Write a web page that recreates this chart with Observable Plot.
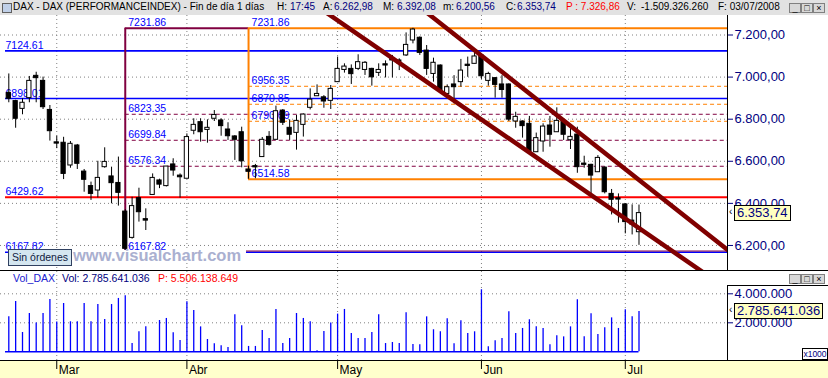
<!DOCTYPE html>
<html><head><meta charset="utf-8">
<script src="https://cdn.jsdelivr.net/npm/d3@7"></script>
<script src="https://cdn.jsdelivr.net/npm/@observablehq/plot@0.6"></script>
<style>
body{margin:0;background:#fff;font-family:"Liberation Sans",Arial,sans-serif;}
#root{position:relative;width:828px;height:378px;overflow:hidden;background:#fff;}
.a{position:absolute;white-space:nowrap;}
.tb{font-size:10px;line-height:14px;top:0;}
.k{color:#000;} .v{color:#000080;} .r{color:#ff0000;}
.btn{position:absolute;width:10px;height:8px;border:1px solid #808080;background:#d8d8d8;font-size:9px;line-height:8px;text-align:center;color:#000;}
.tag{position:absolute;background:#ffffc0;border:1px solid #000;font-size:13px;line-height:14px;color:#000080;padding:0 2px;}
svg{position:absolute;left:0;}
</style></head><body><div id="root"></div>
<script>
const dates = ["2008-02-21","2008-02-22","2008-02-25","2008-02-26","2008-02-27","2008-02-28","2008-02-29",
"2008-03-03","2008-03-04","2008-03-05","2008-03-06","2008-03-07","2008-03-10","2008-03-11","2008-03-12","2008-03-13","2008-03-14","2008-03-17","2008-03-18","2008-03-19","2008-03-20","2008-03-25","2008-03-26","2008-03-27","2008-03-28","2008-03-31",
"2008-04-01","2008-04-02","2008-04-03","2008-04-04","2008-04-07","2008-04-08","2008-04-09","2008-04-10","2008-04-11","2008-04-14","2008-04-15","2008-04-16","2008-04-17","2008-04-18","2008-04-21","2008-04-22","2008-04-23","2008-04-24","2008-04-25","2008-04-28","2008-04-29","2008-04-30",
"2008-05-02","2008-05-05","2008-05-06","2008-05-07","2008-05-08","2008-05-09","2008-05-12","2008-05-13","2008-05-14","2008-05-15","2008-05-16","2008-05-19","2008-05-20","2008-05-21","2008-05-22","2008-05-23","2008-05-26","2008-05-27","2008-05-28","2008-05-29","2008-05-30",
"2008-06-02","2008-06-03","2008-06-04","2008-06-05","2008-06-06","2008-06-09","2008-06-10","2008-06-11","2008-06-12","2008-06-13","2008-06-16","2008-06-17","2008-06-18","2008-06-19","2008-06-20","2008-06-23","2008-06-24","2008-06-25","2008-06-26","2008-06-27","2008-06-30",
"2008-07-01","2008-07-02","2008-07-03"];
const open = [6925,6886,6849,6900,7006,6982,6844,6690,6688,6580,
 6675,6551,6482,6461,6572,6528,6497,6361,6236,6425,
 6325,6440,6509,6482,6585,6532,6517,6745,6786,6749,
 6802,6794,6751,6718,6738,6561,6577,6620,6716,6702,
 6841,6759,6735,6773,6854,6909,6904,6887,6976,7034,
 7039,7039,7034,7039,7020,7061,7090,7079,7103,7174,
 7187,7126,7015,7055,6920,6965,6976,7059,7063,7103,
 6982,6995,6965,6965,6789,6789,6778,6643,6694,6770,
 6738,6792,6700,6727,6589,6583,6548,6570,6445,6424,
 6395,6318,6262.98];
const high = [7015,6890,6897,7003,7023,7000,6865,6719,6714,6694,
 6680,6561,6501,6600,6664,6572,6620,6370,6429,6472,
 6374,6540,6515,6575,6612,6540,6730,6802,6802,6797,
 6841,6802,6783,6722,6762,6577,6585,6713,6741,6862,
 6846,6797,6818,6825,6944,6963,6912,6960,7095,7063,
 7058,7106,7074,7042,7063,7077,7103,7087,7210,7231.86,
 7191,7150,7090,7058,6963,7007,7084,7095,7118,7106,
 7023,6998,7007,6968,6833,6792,6813,6734,6778,6813,
 6854,6795,6762,6762,6624,6586,6627,6573,6466,6445,
 6398,6393,6392.08];
const low = [6878,6757,6821,6878,6878,6846,6696,6660,6513,6567,
 6561,6453,6414,6426,6567,6398,6387,6167.82,6230,6311,
 6271,6440,6470,6478,6529,6425,6517,6726,6691,6686,
 6789,6719,6699,6604,6569,6514.58,6517,6620,6672,6702,
 6770,6699,6653,6715,6844,6909,6852,6846,6976,7019,
 6965,7031,7008,6957,7003,6996,6996,7031,7098,7158,
 7103,7008,6976,6925,6918,6873,6952,6999,7063,6989,
 6957,6900,6900,6789,6757,6710,6635,6643,6643,6667,
 6738,6699,6656,6543,6567,6429,6548,6445,6345,6306,
 6255,6250,6200.56];
const close = [6897,6802,6878,6982,6995,6857,6743,6684,6540,6683,
 6588,6512,6445,6521,6597,6496,6450,6184,6387,6358,
 6318,6521,6489,6575,6556,6524,6715,6773,6738,6759,
 6820,6767,6719,6702,6600,6550,6571,6702,6678,6838,
 6783,6726,6792,6822,6893,6920,6884,6944,7039,7050,
 7014,7071,7068,6999,7034,7055,7079,7066,7153,7226,
 7115,7039,7068,6936,6952,6952,7031,7053,7098,7004,
 7015,6963,6939,6798,6811,6767,6646,6710,6765,6726,
 6792,6726,6716,6572,6583,6532,6616,6453,6417,6418,
 6311,6300,6353.74];
// volume in thousands (axis x1000)
const volume = [2410000,3470000,1330000,2640000,1980000,2640000,3610000,2050000,3330000,2070000,
 2070000,3330000,2070000,3260000,2230000,3260000,3680000,3860000,570000,1380000,
 1720000,0,2160000,2300000,1310000,780000,3450000,2850000,1720000,850000,
 550000,410000,300000,2550000,1790000,370000,370000,1470000,920000,2920000,
 570000,920000,2640000,2300000,2070000,70000,1400000,1980000,2600000,2920000,
 1260000,920000,920000,1330000,2550000,570000,640000,570000,2690000,500000,
 480000,2410000,1520000,1380000,2280000,550000,2140000,1260000,1380000,4280000,
 340000,760000,920000,2760000,1260000,1610000,2210000,1720000,1610000,480000,
 1100000,1030000,1720000,3590000,1030000,2620000,1200000,1660000,2340000,1610000,
 2900000,2410000,2785641];
const monthNames = ["Mar","Abr","May","Jun","Jul"];
const priceTicks = [6200,6400,6600,6800,7000,7200];
const volTicks = [2000000,4000000];
const blueLevels = [7124.61, 6898.01, 6167.82];
const redLevels = [6429.62];
const purpleRange = [6167.82, 7231.86];
const purpleLevels = [6823.35, 6699.84, 6576.34];
const orangeRange = [6514.58, 7231.86];
const orangeLevels = [6956.35, 6870.85, 6790.09];
const trendUpper = [[60.1, 7330], [106, 6152]];
const trendLower = [[45.3, 7330], [102, 6058]];
const headerInfo = {volTotal: "2.785.641.036", volP: "5.506.138.649", P: "7.326,86", V: "-1.509.326.260", F: "03/07/2008", H: "17:45"};

const N = dates.length;
const loc = d3.formatLocale({decimal: ",", thousands: ".", grouping: [3], currency: ["", ""]});
const fmtPrice = loc.format(",.2f");
const fmtVol = loc.format(",.0f");
const fmtLevel = d3.format(".2f");
const monthIdx = dates.map((d, i) => i).filter(i => i > 0 && dates[i].slice(5, 7) !== dates[i - 1].slice(5, 7));
const purpleStart = low.indexOf(purpleRange[0]);
const orangeStart = low.indexOf(orangeRange[0]);
const leftX = -0.48;
const xDomain = [-1.212, 104.92];
const FONT = "Liberation Sans, Arial, sans-serif";

const candles = d3.range(N).map(i => ({i, o: open[i], h: high[i], l: low[i], c: close[i], up: close[i] >= open[i]}));
const bw = 0.31;

const labelOpts = {textAnchor: "start", lineAnchor: "bottom", dx: 3, dy: -2, fill: "#0000ff", fontSize: 10.5, fontFamily: FONT};

const price = Plot.plot({
  width: 828, height: 255,
  marginLeft: 0, marginRight: 101, marginTop: 0, marginBottom: 0,
  x: {domain: xDomain, axis: null},
  y: {domain: [6081, 7292.7], axis: null},
  style: {background: "transparent", fontFamily: FONT, overflow: "visible"},
  marks: [
    Plot.ruleY(priceTicks, {stroke: "#808080", strokeDasharray: "1,3"}),
    Plot.ruleX(monthIdx, {stroke: "#808080", strokeDasharray: "1,3"}),
    Plot.ruleY(blueLevels, {x1: leftX, x2: xDomain[1], stroke: "#0000ff", strokeWidth: 1.6}),
    Plot.ruleY(redLevels, {x1: leftX, x2: xDomain[1], stroke: "#ff0000", strokeWidth: 2}),
    Plot.ruleY(purpleLevels, {x1: purpleStart, x2: xDomain[1], stroke: "#800040", strokeDasharray: "4,3"}),
    Plot.ruleY([purpleRange[0]], {x1: purpleStart, x2: xDomain[1], stroke: "#800040", strokeWidth: 1, dy: -1.2}),
    Plot.ruleY([purpleRange[1]], {x1: purpleStart, x2: orangeStart, stroke: "#800040", strokeWidth: 2}),
    Plot.ruleX([purpleStart], {y1: purpleRange[0], y2: purpleRange[1], stroke: "#800040", strokeWidth: 2}),
    Plot.ruleY(orangeLevels, {x1: orangeStart, x2: xDomain[1], stroke: "#ff8000", strokeDasharray: "4,3"}),
    Plot.ruleY(orangeRange, {x1: orangeStart, x2: xDomain[1], stroke: "#ff8000", strokeWidth: 2}),
    Plot.ruleX([orangeStart], {y1: orangeRange[0], y2: orangeRange[1], stroke: "#ff8000", strokeWidth: 2}),
    Plot.text([...blueLevels, ...redLevels], {x: leftX, y: d => d, text: d => fmtLevel(d), ...labelOpts, dx: 0}),
    Plot.text([purpleRange[1], ...purpleLevels, purpleRange[0]], {x: purpleStart, y: d => d, text: d => fmtLevel(d), ...labelOpts}),
    Plot.text([orangeRange[1], ...orangeLevels, orangeRange[0]], {x: orangeStart, y: d => d, text: d => fmtLevel(d), ...labelOpts}),
    Plot.ruleX(candles, {x: "i", y1: "l", y2: "h", stroke: "#000", strokeWidth: 1}),
    Plot.rect(candles, {x1: d => d.i - bw, x2: d => d.i + bw, y1: "o", y2: "c", fill: d => d.up ? "#fff" : "#000", stroke: "#000", strokeWidth: 1}),
    Plot.line(trendUpper, {x: d => d[0], y: d => d[1], stroke: "#800000", strokeWidth: 4.5, clip: true}),
    Plot.line(trendLower, {x: d => d[0], y: d => d[1], stroke: "#800000", strokeWidth: 4.5, clip: true}),
    Plot.axisY({ticks: priceTicks, anchor: "right", tickFormat: fmtPrice, tickSize: 5, tickPadding: 2, fontSize: 13, color: "#000080", label: null})
  ]
});

const volData = d3.range(N).map(i => ({i, v: volume[i]}));
const vol = Plot.plot({
  width: 828, height: 107,
  marginLeft: 0, marginRight: 101, marginTop: 0, marginBottom: 18,
  x: {domain: xDomain, axis: null},
  y: {domain: [-600000, 5538000], axis: null},
  style: {background: "transparent", fontFamily: FONT, overflow: "visible"},
  marks: [
    Plot.ruleY(volTicks, {stroke: "#808080", strokeDasharray: "1,3"}),
    Plot.ruleX(monthIdx, {stroke: "#808080", strokeDasharray: "1,3"}),
    Plot.ruleX(volData, {x: "i", y1: 0, y2: "v", stroke: "#0000ff", strokeWidth: 1.3}),
    Plot.ruleY([0], {x1: leftX, x2: N - 1, stroke: "#0000ff", strokeWidth: 1.6}),
    Plot.axisY({ticks: volTicks, anchor: "right", tickFormat: fmtVol, tickSize: 5, tickPadding: 2, fontSize: 13, color: "#000080", label: null}),
    Plot.axisX({ticks: monthIdx, tickFormat: () => "", tickSize: 9, anchor: "bottom", color: "#000", label: null}),
    Plot.axisX({ticks: monthIdx, tickFormat: d => monthNames[monthIdx.indexOf(d)], tickSize: 0, tickPadding: 5, anchor: "bottom", textAnchor: "start", dx: 2, fontSize: 12, color: "#000", label: null})
  ]
});

const root = document.getElementById("root");
function add(html) { root.insertAdjacentHTML("beforeend", html); }
// backgrounds
add(`<div class="a" style="left:0;top:0;width:828px;height:15px;background:#e2e2e2;"></div>`);
add(`<div class="a" style="left:0;top:361px;width:828px;height:17px;background:#ffffcc;"></div>`);
price.style.top = "15px"; root.appendChild(price);
vol.style.top = "271px"; root.appendChild(vol);
// borders
add(`<div class="a" style="left:727px;top:15px;width:1px;height:255px;background:#000;"></div>`);
add(`<div class="a" style="left:0;top:270px;width:828px;height:1px;background:#000;"></div>`);
add(`<div class="a" style="left:727px;top:285px;width:101px;height:1px;background:#000;"></div>`);
add(`<div class="a" style="left:727px;top:285px;width:1px;height:75px;background:#000;"></div>`);
add(`<div class="a" style="left:0;top:360px;width:828px;height:1px;background:#000;"></div>`);

// title bar
const L = candles[N - 1];
const seg = [
  [13, "k", "DAX - DAX (PERFORMANCEINDEX) - Fin de día 1 días"],
  [277, "k", "H:"], [290, "v", headerInfo.H],
  [323, "k", "A:"], [334, "v", fmtPrice(L.o)],
  [383, "k", "M:"], [397, "v", fmtPrice(L.h)],
  [443, "k", "m:"], [456, "v", fmtPrice(L.l)],
  [506, "k", "C:"], [517, "v", fmtPrice(L.c)],
  [566, "r", "P : " + headerInfo.P],
  [627, "k", "V:"], [641, "k", headerInfo.V],
  [718, "k", "F: " + headerInfo.F]
];
seg.forEach(([x, c, t]) => add(`<span class="a tb ${c}" style="left:${x}px;">${t}</span>`));
function buttons(top) {
  add(`<div class="btn" style="left:789px;top:${top}px;">_</div>`);
  add(`<div class="btn" style="left:801px;top:${top}px;">□</div>`);
  add(`<div class="btn" style="left:813px;top:${top}px;">×</div>`);
}
buttons(3);
buttons(274);
add(`<div class="a" style="left:2px;top:3px;width:8px;height:8px;border:1px solid #606060;background:#c0d0e8;"></div>`);

// volume header
add(`<span class="a" style="left:13px;top:272px;font-size:10.5px;line-height:12px;color:#2020d0;">Vol_DAX</span>`);
add(`<span class="a" style="left:62px;top:272px;font-size:10.5px;line-height:12px;color:#000080;">Vol: ${headerInfo.volTotal}</span>`);
add(`<span class="a" style="left:158px;top:272px;font-size:10.5px;line-height:12px;color:#ff0000;">P: ${headerInfo.volP}</span>`);

// watermark and order box
add(`<div class="a" style="left:72px;top:250px;width:174px;height:12px;background:#fff;"></div>`);
add(`<span class="a" style="left:73px;top:247px;font-size:16.5px;font-weight:bold;line-height:17px;color:#aab0d0;">www.visualchart.com</span>`);
add(`<div class="a" style="left:8px;top:249px;width:62px;height:15px;border:1px solid #304060;background:#d4e6f0;font-size:10.5px;line-height:15px;color:#102040;text-align:center;">Sin órdenes</div>`);

// price and volume tags (positions from Plot scales)
const yP = 15 + price.scale("y").apply(L.c);
add(`<span class="a" style="left:729px;top:${yP - 8}px;font-size:10px;line-height:14px;color:#000;">‹</span>`);
add(`<div class="tag" style="left:734px;top:${yP - 8}px;">${fmtPrice(L.c)}</div>`);
const yV = 271 + vol.scale("y").apply(volume[N - 1]);
add(`<span class="a" style="left:729px;top:${yV - 8}px;font-size:10px;line-height:14px;color:#000;">‹</span>`);
add(`<div class="tag" style="left:734px;top:${yV - 8}px;">${headerInfo.volTotal}</div>`);
add(`<div class="a" style="left:802px;top:348px;width:24px;height:10px;border:1px solid #000;background:#fff;font-size:8.5px;line-height:10px;text-align:center;color:#000080;">x1000</div>`);
</script></body></html>
